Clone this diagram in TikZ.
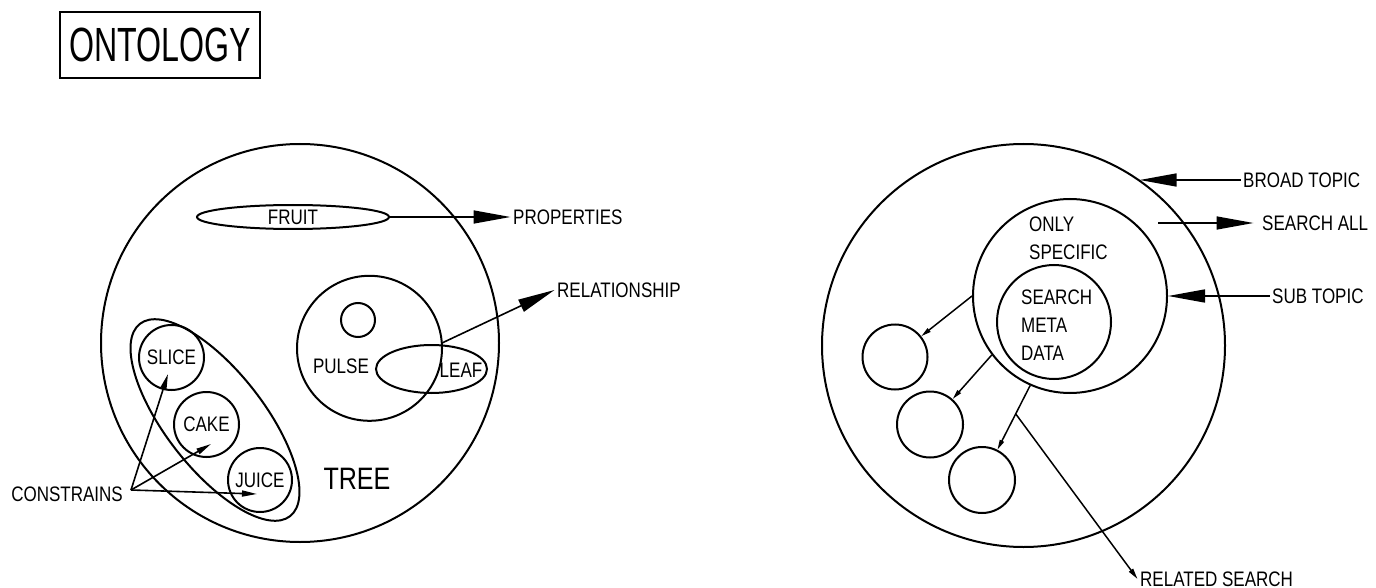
\documentclass[tikz,border=0pt]{standalone}
\usepackage{fontspec}
\setmainfont{Liberation Sans}[FakeStretch=0.81]
\newfontfamily\titlefont{Liberation Sans}[FakeStretch=0.67]
\usetikzlibrary{positioning,arrows.meta,shapes.geometric,calc}

\begin{document}
\begin{tikzpicture}[x=1pt,y=-1pt,
    every node/.style={font=\fontsize{21}{28}\selectfont},
    ring/.style={draw,circle,line width=2pt,inner sep=0pt},
    oval/.style={draw,ellipse,line width=2pt,inner sep=0pt},
    lbl/.style={inner sep=2.5pt,align=left},
    bigar/.style={-{Triangle[length=37pt,width=13pt]},line width=1.6pt},
    midar/.style={-{Triangle[length=15pt,width=6pt]},line width=1.6pt},
    tinyar/.style={-{Triangle[length=10pt,width=4.5pt]},line width=1.5pt}]
  \useasboundingbox (0,0) rectangle (1376,588);

  \node[draw,line width=1.6pt,minimum width=200pt,minimum height=66pt,
        font=\titlefont\fontsize{48}{52}\selectfont] (title) at (160,45) {ONTOLOGY};

  % left: ontology tree
  \node[ring,minimum size=398pt] (bigL) at (300,343) {};
  \node[oval,minimum width=192pt,minimum height=24pt] (fruit) at (293,217) {FRUIT};
  \node[ring,minimum size=145pt] (pulse) at (369.5,348.3) {};
  \node[ring,minimum size=34pt] (dot) at (358,320) {};
  \node[oval,minimum width=111pt,minimum height=48pt] (leaf) at (431.5,369) {};
  \node[lbl,inner sep=0pt] (pulsetxt) at (341,366) {PULSE};
  \node[lbl,inner sep=0pt] (leaftxt) at (461,370) {LEAF};
  \node[oval,minimum width=244pt,minimum height=98pt,rotate=-52] (group) at (215,420) {};
  \node[ring,minimum size=65pt] (slice) at (171.5,357.5) {SLICE};
  \node[ring,minimum size=65pt] (cake) at (206.5,424.5) {CAKE};
  \node[ring,minimum size=64pt] (juice) at (260,480) {JUICE};
  \node[lbl,inner sep=0pt,font=\fontsize{31}{34}\selectfont] (tree) at (357,479) {TREE};

  \node[lbl,anchor=west] (props) at (510.5,217) {PROPERTIES};
  \node[lbl,anchor=west] (rel) at (554.5,290) {RELATIONSHIP};
  \node[lbl,anchor=east] (cons) at (125.5,494.5) {CONSTRAINS};
  \coordinate (relA) at (442,343);
  \coordinate (cfork) at ($(cons.east)+(5.5,-4.5)$);

  \draw[bigar] (fruit.east) -- (props.west);
  \draw[bigar] (relA) -- (rel.west);
  \draw[midar] (cfork) -- ($(slice.center)+(-3.5,16.5)$);
  \draw[midar] (cfork) -- ($(cake.center)+(4.5,19.5)$);
  \draw[midar] (cfork) -- ($(juice.center)+(-3,14)$);

  % right: topic search
  \node[ring,minimum size=403pt] (bigR) at (1023.5,345.5) {};
  \node[ring,minimum size=194pt] (sub) at (1070,296) {};
  \node[ring,minimum size=114pt] (meta) at (1054,322) {};
  \node[lbl,inner sep=0pt,anchor=west] (only) at (1029,238) {ONLY\\SPECIFIC};
  \node[lbl,inner sep=0pt,anchor=west] (metatxt) at (1021,325) {SEARCH\\META\\DATA};
  \node[ring,minimum size=65pt] (c1) at (895,357) {};
  \node[ring,minimum size=66pt] (c2) at (930,424.5) {};
  \node[ring,minimum size=66pt] (c3) at (982,480) {};

  \node[lbl,anchor=west] (broad) at (1240.5,180) {BROAD TOPIC};
  \node[lbl,anchor=west] (searchall) at (1259.5,223) {SEARCH ALL};
  \node[lbl,anchor=west] (subtxt) at (1269.5,296) {SUB TOPIC};
  \node[lbl,anchor=west] (related) at (1137.5,579) {RELATED SEARCH};
  \coordinate (saA) at (1158,223);
  \coordinate (a3s) at (sub.246.8);
  \coordinate (relS) at ($(a3s)!0.3!(c3.center)$);

  \draw[bigar] (broad.west) -- (broad.west -| bigR.55.2);
  \draw[bigar,shorten >=6pt] (saA) -- (searchall.west);
  \draw[bigar] (subtxt.west) -- (sub.east);
  \draw[tinyar] (sub.west) -- (c1);
  \draw[tinyar] (sub.217) -- (c2);
  \draw[tinyar] (a3s) -- (c3);
  \draw[-{Triangle[length=11pt,width=5pt]},line width=1.5pt] (relS) -- (related.west);
\end{tikzpicture}
\end{document}
